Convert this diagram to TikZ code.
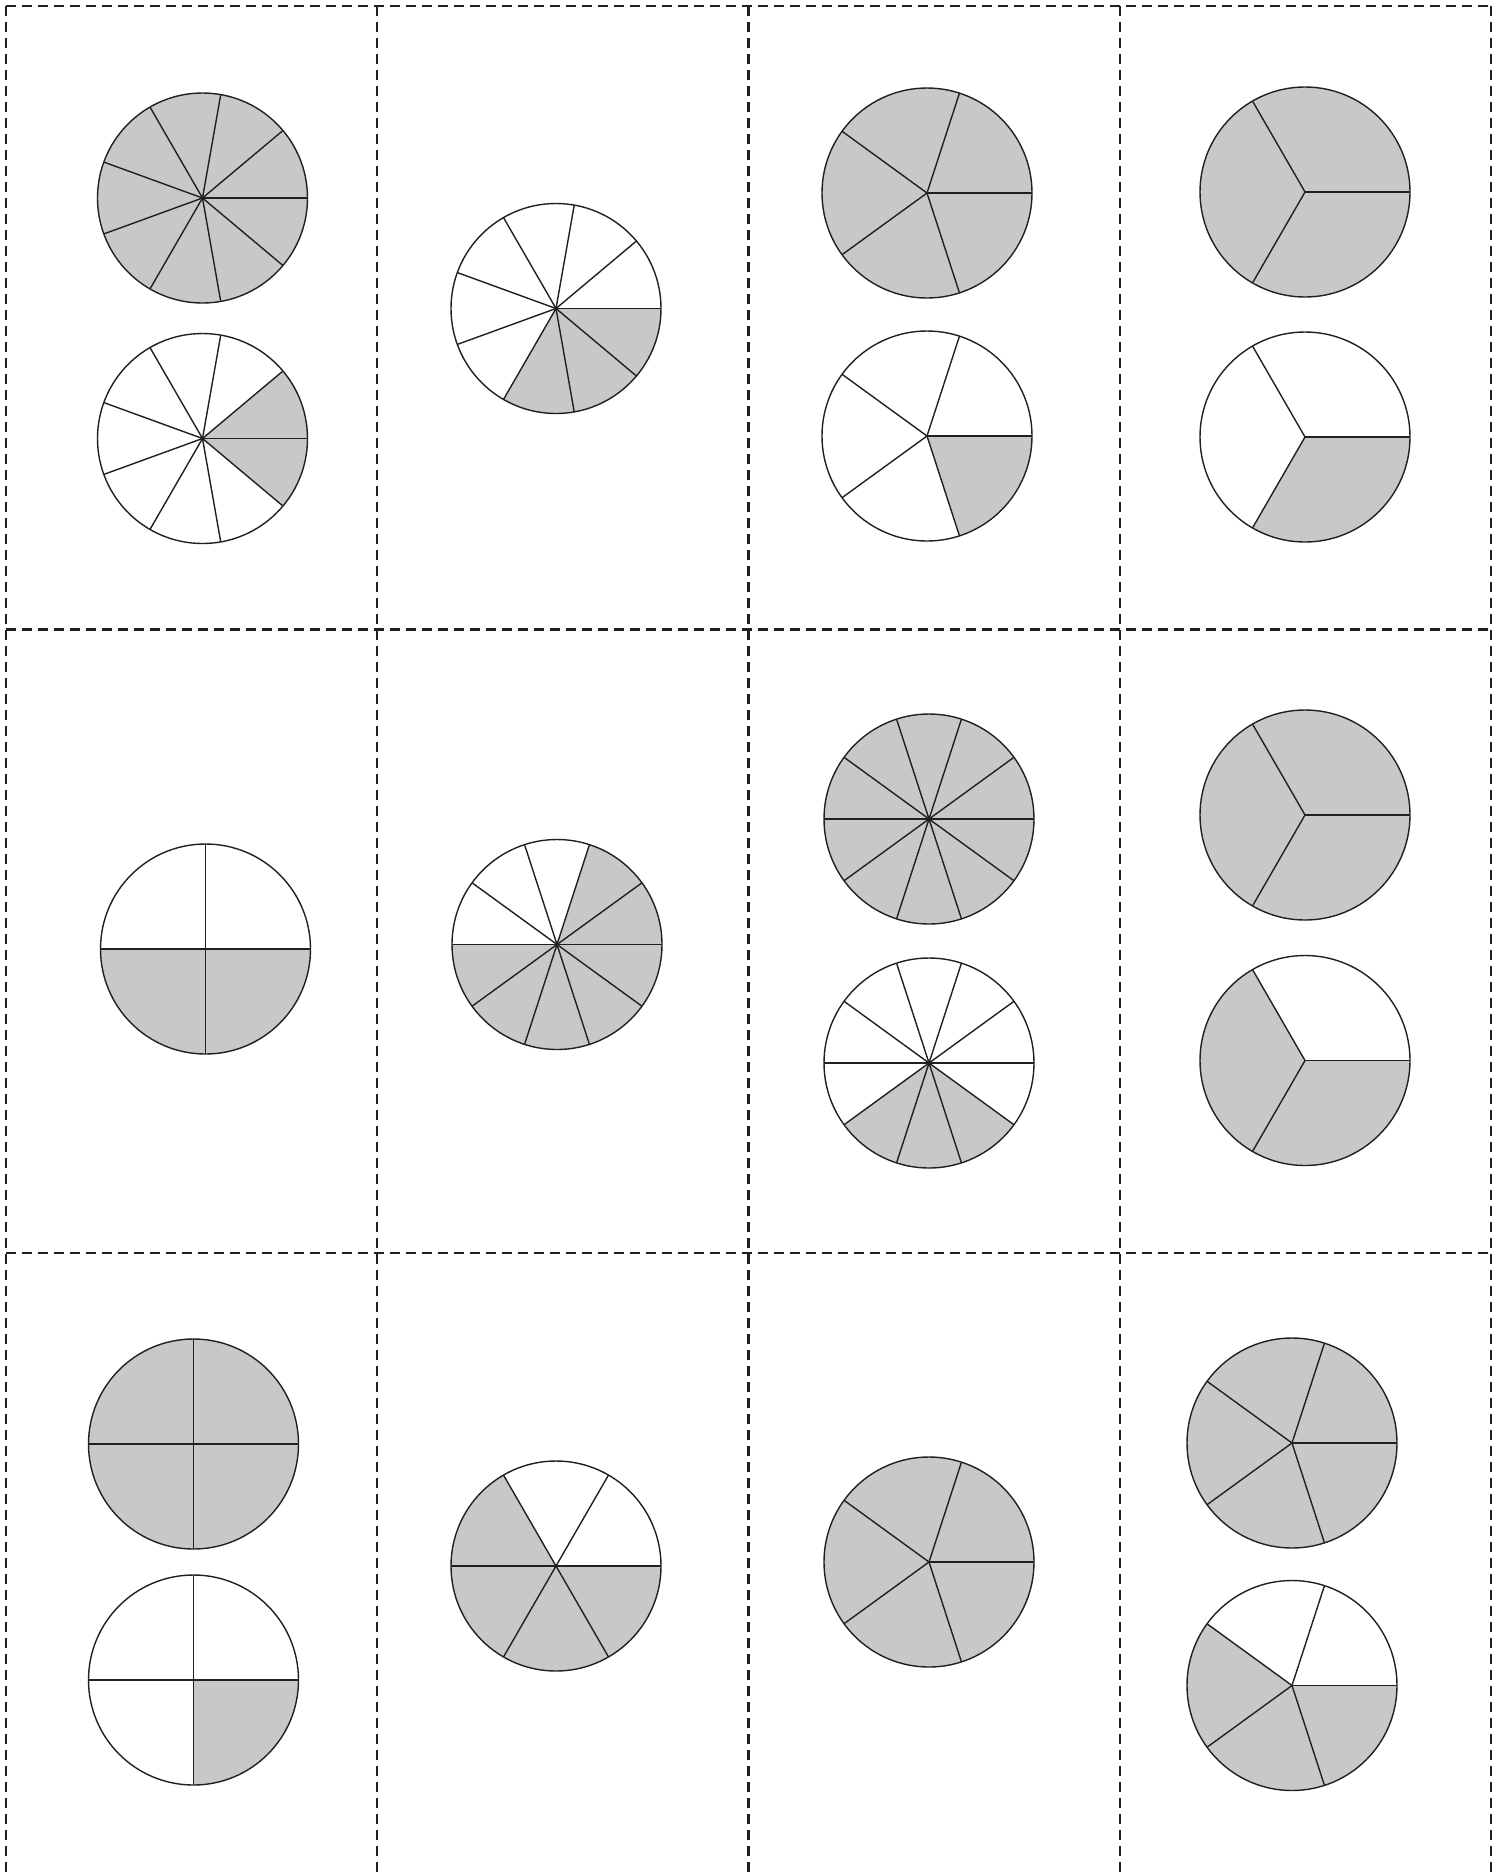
\documentclass[tikz,border=0pt]{standalone}
\definecolor{piegray}{HTML}{C7C8CA}
\definecolor{inkline}{HTML}{231F20}
\tikzset{
  pieline/.style={draw=inkline, line width=0.7pt, line join=round},
  piefill/.style={fill=piegray},
  cutline/.style={draw=inkline, line width=1.2pt, dash pattern=on 5pt off 3pt}
}
\newcommand{\fracpie}[4]{%
  \begin{scope}[shift={(#1,-#2)}]
    \fill[white] (0,0) circle[radius=105];
    \foreach \k in {#4} {
      \fill[piefill] (0,0) -- ({\k*360/#3}:105)
        arc[start angle={\k*360/#3}, end angle={(\k+1)*360/#3}, radius=105] -- cycle;
    }
    \foreach \k in {1,...,#3} \draw[pieline] (0,0) -- ({\k*360/#3}:105);
    \draw[pieline] (0,0) circle[radius=105];
  \end{scope}}
\begin{document}
\begin{tikzpicture}[x=0.5pt,y=0.5pt]
\useasboundingbox (0,0) rectangle (1499,-1875);
\fill[white] (0,0) rectangle (1499,-1875);
% cut lines
\foreach \gx in {6,377.25,748.5,1119.75,1491}
  \draw[cutline] (\gx,-6) -- (\gx,-1875);
\foreach \gy in {6,629.5,1253}
  \draw[cutline] (6,-\gy) -- (1491,-\gy);
% row 1
\fracpie{202.5}{198}{9}{0,...,8}
\fracpie{202.5}{438.5}{9}{0,8}
\fracpie{556}{308.5}{9}{6,7,8}
\fracpie{927}{193}{5}{0,...,4}
\fracpie{927}{436}{5}{4}
\fracpie{1305}{192}{3}{0,1,2}
\fracpie{1305}{437}{3}{2}
% row 2
\fracpie{205.5}{949}{4}{2,3}
\fracpie{557}{944.5}{10}{0,1,5,6,7,8,9}
\fracpie{929}{819}{10}{0,...,9}
\fracpie{929}{1063}{10}{6,7,8}
\fracpie{1305}{815}{3}{0,1,2}
\fracpie{1305}{1060.5}{3}{1,2}
% row 3
\fracpie{193.5}{1444}{4}{0,1,2,3}
\fracpie{193.5}{1680}{4}{3}
\fracpie{556}{1566}{6}{2,3,4,5}
\fracpie{929}{1562}{5}{0,...,4}
\fracpie{1292}{1443}{5}{0,...,4}
\fracpie{1292}{1685.5}{5}{2,3,4}
\end{tikzpicture}
\end{document}
